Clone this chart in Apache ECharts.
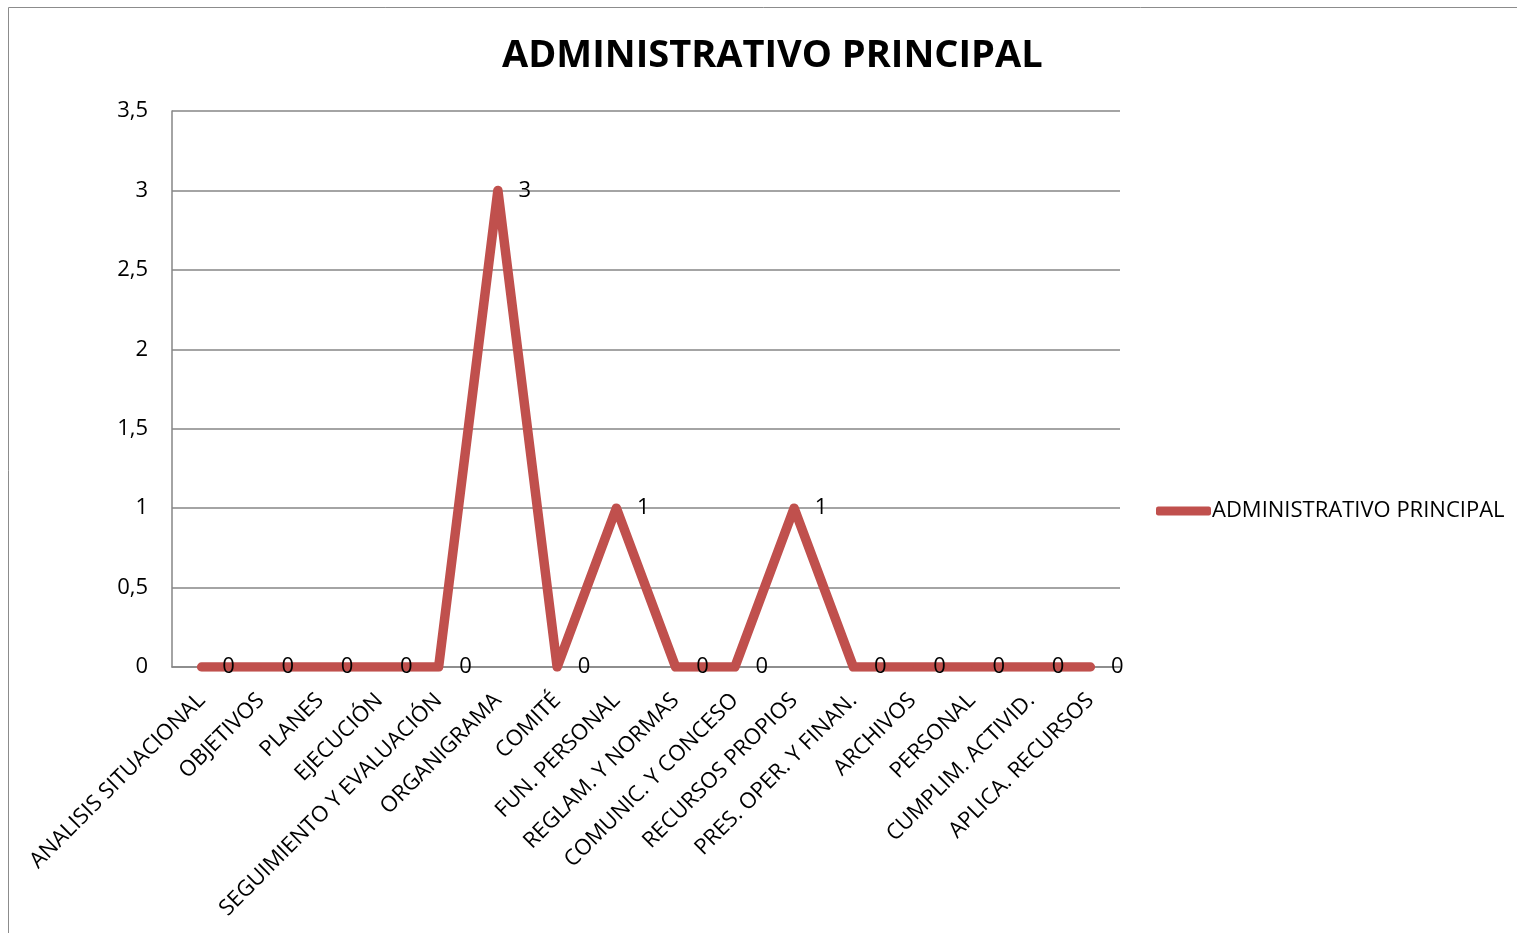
<!DOCTYPE html>
<html>
<head>
<meta charset="utf-8">
<script src="https://cdn.jsdelivr.net/npm/echarts@6/dist/echarts.min.js"></script>
<style>
  html, body { margin: 0; padding: 0; background: #fff; }
  #chart { width: 1517px; height: 933px; }
</style>
</head>
<body>
<div id="chart"></div>
<script>
// categorias del eje X
var categorias = [
  'ANALISIS SITUACIONAL', 'OBJETIVOS', 'PLANES', 'EJECUCIÓN',
  'SEGUIMIENTO Y EVALUACIÓN', 'ORGANIGRAMA', 'COMITÉ', 'FUN. PERSONAL',
  'REGLAM. Y NORMAS', 'COMUNIC. Y CONCESO', 'RECURSOS PROPIOS', 'PRES. OPER. Y FINAN.',
  'ARCHIVOS', 'PERSONAL', 'CUMPLIM. ACTIVID.', 'APLICA. RECURSOS'
];
var valores = [0, 0, 0, 0, 0, 3, 0, 1, 0, 0, 1, 0, 0, 0, 0, 0];
var nombreSerie = 'ADMINISTRATIVO PRINCIPAL';
var titulo = 'ADMINISTRATIVO PRINCIPAL';

var fuente = 'Open Sans';
var rojo = '#C0504D';
var gris = '#868686';
var tam = 22;

var myChart = echarts.init(document.getElementById('chart'));
var option = {
  animation: false,
  textStyle: { fontFamily: fuente, color: '#000' },
  title: {
    text: titulo,
    left: 497,
    top: 32,
    textStyle: { fontFamily: fuente, fontSize: 38, fontWeight: 'bold', color: '#000' }
  },
  graphic: [{
    type: 'rect',
    shape: { x: 8.5, y: 7.5, width: 1530, height: 960 },
    style: { fill: 'none', stroke: '#8c8c8c', lineWidth: 1 },
    silent: true
  }],
  legend: {
    left: 1156,
    top: 500,
    padding: 0,
    itemWidth: 55,
    itemHeight: 9,
    itemGap: 0,
    icon: 'roundRect',
    textStyle: { fontFamily: fuente, fontSize: tam, color: '#000', padding: [0, 0, 0, -4] },
    data: [nombreSerie]
  },
  grid: { left: 172, right: 397, top: 111, bottom: 266 },
  xAxis: {
    type: 'category',
    data: categorias,
    boundaryGap: true,
    axisLine: { lineStyle: { color: gris, width: 1.5 } },
    axisTick: { show: false },
    axisLabel: {
      interval: 0,
      rotate: 45,
      margin: 30,
      fontFamily: fuente,
      fontSize: tam,
      color: '#000'
    }
  },
  yAxis: {
    type: 'value',
    min: 0,
    max: 3.5,
    interval: 0.5,
    axisLine: { show: true, lineStyle: { color: gris, width: 1.5 } },
    axisTick: { show: false },
    splitLine: { lineStyle: { color: gris, width: 1.5 } },
    axisLabel: {
      margin: 24,
      fontFamily: fuente,
      fontSize: tam,
      color: '#000',
      formatter: function (v) { return String(v).replace('.', ','); }
    }
  },
  series: [{
    name: nombreSerie,
    type: 'line',
    data: valores,
    symbol: 'circle',
    symbolSize: 1,
    showSymbol: true,
    itemStyle: { color: rojo },
    lineStyle: { color: rojo, width: 9.5, cap: 'round', join: 'round' },
    label: {
      show: true,
      position: 'right',
      distance: 20,
      fontFamily: fuente,
      fontSize: tam,
      color: '#000'
    }
  }]
};
myChart.setOption(option);
</script>
</body>
</html>
